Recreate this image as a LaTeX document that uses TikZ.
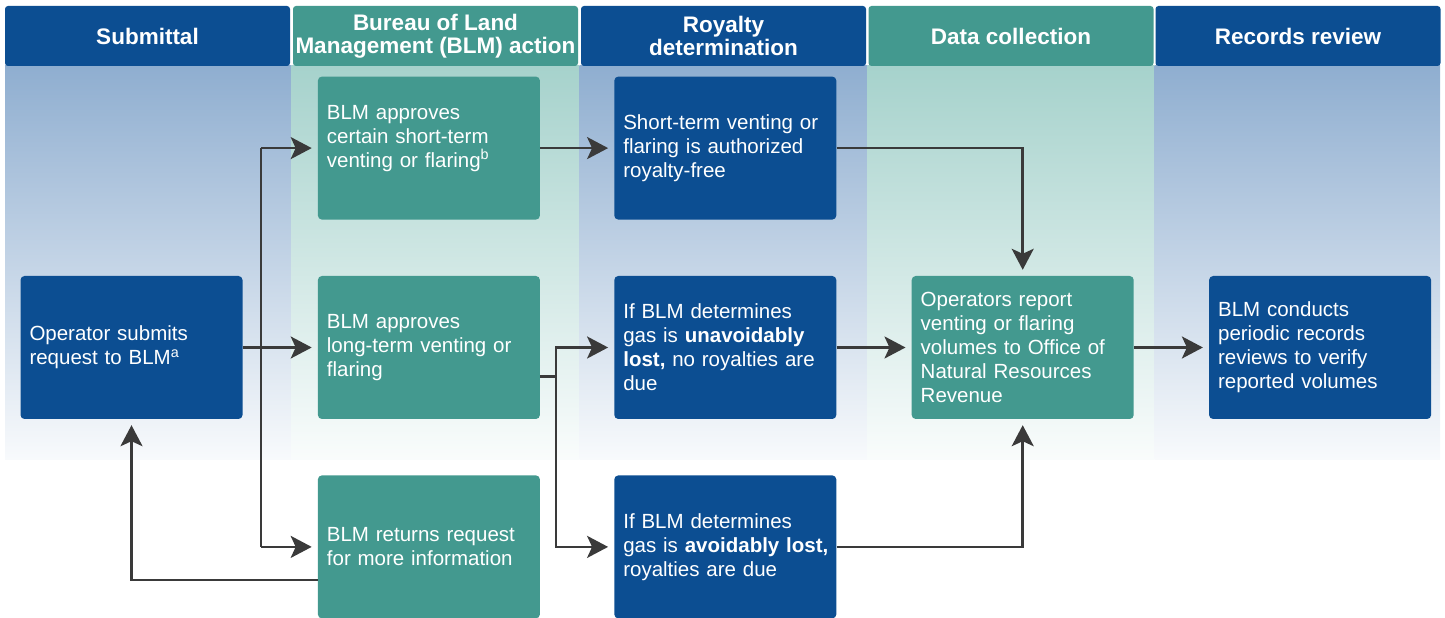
\documentclass[tikz,border=0pt]{standalone}
\usepackage{fontspec}
\setmainfont{Liberation Sans}
\usepackage{tikz}
\usetikzlibrary{arrows.meta, positioning}
\definecolor{blmblue}{RGB}{12,78,146}
\definecolor{blmteal}{RGB}{67,153,143}
\definecolor{bgblue}{RGB}{143,174,208}
\definecolor{bgteal}{RGB}{166,210,204}
\definecolor{linegray}{RGB}{58,58,58}
\tikzstyle{arrow} = [line width=2.5pt, draw=linegray, shorten >=6pt, -{Stealth[length=21pt,width=22pt,inset=5pt]}]
\tikzstyle{line} = [line width=2.5pt, draw=linegray]
\tikzstyle{headbox} = [text=white, rounded corners=3pt, minimum width=285pt, minimum height=60pt, inner sep=0pt, align=center, font=\bfseries\fontsize{22.5}{23}\selectfont]
\tikzstyle{stepbox} = [text=white, rounded corners=4pt, minimum width=222pt, minimum height=143pt, text width=204pt, inner sep=0pt, align=left, font=\fontsize{20.5}{24}\selectfont]

\begin{document}
\begin{tikzpicture}[x=1pt,y=1pt]
	\useasboundingbox (0,0) rectangle (1445,618);
	% column backgrounds
	\shade[top color=bgblue, middle color=bgblue!25, bottom color=bgblue!6] (5,158) rectangle (291.5,552);
	\shade[top color=bgteal, middle color=bgteal!25, bottom color=bgteal!6] (291.5,158) rectangle (579.5,552);
	\shade[top color=bgblue, middle color=bgblue!25, bottom color=bgblue!6] (579.5,158) rectangle (867.5,552);
	\shade[top color=bgteal, middle color=bgteal!25, bottom color=bgteal!6] (867.5,158) rectangle (1154.5,552);
	\shade[top color=bgblue, middle color=bgblue!25, bottom color=bgblue!6] (1154.5,158) rectangle (1440,552);
	% headers
	\node[headbox, fill=blmblue] (hsub) at (147.5,582) {Submittal};
	\node[headbox, fill=blmteal] (hblm) at (435.5,582) {Bureau of Land\\Management (BLM) action};
	\node[headbox, fill=blmblue] (hroy) at (723.5,582) {Royalty\\determination};
	\node[headbox, fill=blmteal] (hdata) at (1011,582) {Data collection};
	\node[headbox, fill=blmblue] (hrec) at (1298,582) {Records review};
	% steps
	\node[stepbox, fill=blmblue] (sub) at (131.5,270.5) {Operator submits\\request to BLM\textsuperscript{a}};
	\node[stepbox, fill=blmteal, right=75pt of sub] (long) {BLM approves\\long-term venting or\\flaring};
	\node[stepbox, fill=blmteal, above=56pt of long] (short) {BLM approves\\certain short-term\\venting or flaring\textsuperscript{b}\\\mbox{}};
	\node[stepbox, fill=blmteal, below=56pt of long] (retn) {BLM returns request\\for more information};
	\node[stepbox, fill=blmblue, right=74pt of long] (unavoid) {If BLM determines\\gas is \textbf{unavoidably}\\\textbf{lost,} no royalties are\\due};
	\node[stepbox, fill=blmblue, above=56pt of unavoid] (free) {Short-term venting or\\flaring is authorized\\royalty-free};
	\node[stepbox, fill=blmblue, below=56pt of unavoid] (avoid) {If BLM determines\\\mbox{gas is \textbf{avoidably lost,}}\\royalties are due};
	\node[stepbox, fill=blmteal, right=75pt of unavoid] (report) {Operators report\\venting or flaring\\volumes to Office of\\Natural Resources\\Revenue};
	\node[stepbox, fill=blmblue, right=75pt of report] (review) {BLM conducts\\periodic records\\reviews to verify\\reported volumes};
	% connectors
	\coordinate (fork) at (261,0);
	\coordinate (fork2) at (556,0);
	\draw[arrow] (sub.east) -- (long.west);
	\draw[line] (fork |- short.west) -- (fork |- retn.west);
	\draw[arrow] (fork |- short.west) -- (short.west);
	\draw[arrow] (fork |- retn.west) -- (retn.west);
	\draw[arrow] ([yshift=-33pt]retn.west) -| (sub.south);
	\draw[line] ([yshift=-29pt]long.east) -- ++(16.5,0);
	\draw[arrow] (fork2 |- avoid.west) |- (unavoid.west);
	\draw[arrow] (fork2 |- unavoid.west) |- (avoid.west);
	\draw[arrow] (short.east) -- (free.west);
	\draw[arrow] (free.east) -| (report.north);
	\draw[arrow] (unavoid.east) -- (report.west);
	\draw[arrow] (avoid.east) -| (report.south);
	\draw[arrow] (report.east) -- (review.west);
\end{tikzpicture}
\end{document}
